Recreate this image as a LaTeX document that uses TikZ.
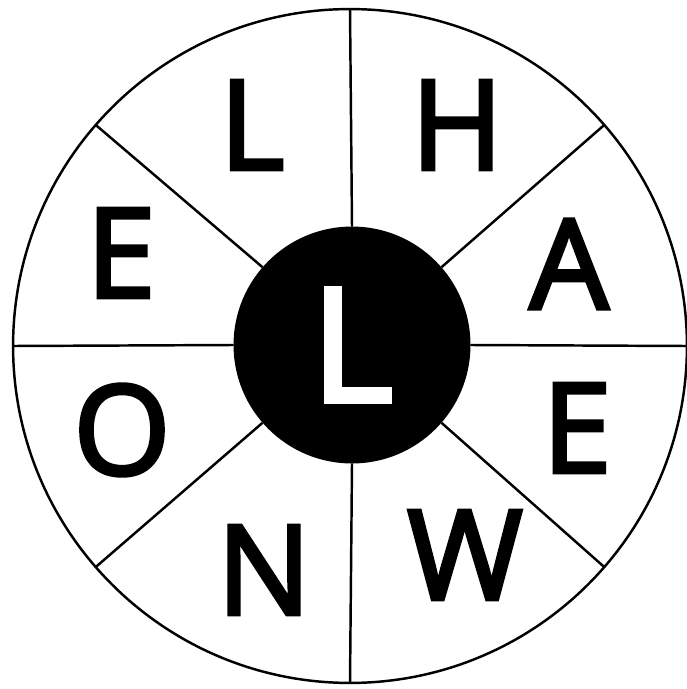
\documentclass[tikz,border=0pt]{standalone}
\usepackage{fontspec}
\newfontfamily\wheelfont[FakeBold=3]{Open Sans}

\begin{document}
\begin{tikzpicture}[x=0.02cm, y=-0.02cm, line width=1.4pt,
    letter/.style={font=\wheelfont\fontsize{71}{71}\selectfont, inner sep=0pt}]
    \useasboundingbox (0,0) rectangle (686,689);

    % Wheel
    \node (rim) [circle, draw, outer sep=0pt, minimum size=13.48cm] at (350,346) {};
    \node (hub) [circle, fill=black, text=white, outer sep=0pt, inner sep=0pt,
        minimum size=4.74cm, font=\wheelfont\fontsize{90}{90}\selectfont] at (352,345) {L};

    % Spokes
    \draw (hub.north) -- (rim.north);
    \draw (hub.south) -- (rim.south);
    \draw (hub.east) -- (rim.east);
    \draw (hub.west) -- (rim.west);
    \draw (hub.41) -- (rim.41);
    \draw (hub.139) -- (rim.139);
    \draw (hub.221) -- (rim.221);
    \draw (hub.319) -- (rim.319);

    % Letters
    \node (l1) [letter] at (252,125) {L};
    \node (h1) [letter] at (457,125) {H};
    \node (a1) [letter] at (569,264) {A};
    \node (e2) [letter] at (577,428) {E};
    \node (w1) [letter] at (465,555) {W};
    \node (n1) [letter] at (264,570) {N};
    \node (o1) [letter] at (122,430) {O};
    \node (e1) [letter] at (121,253) {E};
\end{tikzpicture}
\end{document}
